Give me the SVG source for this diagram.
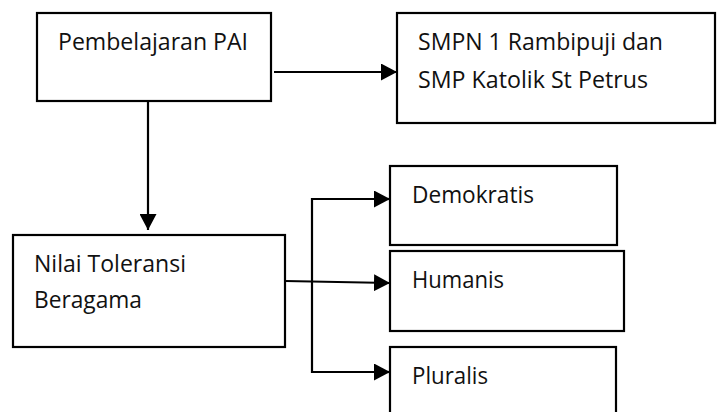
<svg xmlns="http://www.w3.org/2000/svg" width="717" height="412" viewBox="0 0 717 412">
<defs>
<style>
.box{fill:#fff;stroke:#000;stroke-width:2.2}
.lbl{font-family:"Open Sans","Noto Sans","Liberation Sans",sans-serif;font-size:23px;fill:#111}
.ln{fill:none;stroke:#000;stroke-width:2.2}
</style>
<marker id="ah" viewBox="0 0 16 17" refX="16" refY="8.5" markerWidth="16" markerHeight="17" markerUnits="userSpaceOnUse" orient="auto">
<path d="M0,0 L16,8.5 L0,17 Z" fill="#000"/>
</marker>
</defs>
<rect width="717" height="412" fill="#fff"/>
<g id="pai">
<rect class="box" x="37" y="13" width="234" height="88"/>
<text class="lbl" x="58" y="50" textLength="190" lengthAdjust="spacingAndGlyphs">Pembelajaran PAI</text>
</g>
<g id="smpn">
<rect class="box" x="397" y="13" width="318" height="110"/>
<text class="lbl" x="418" y="50" textLength="245" lengthAdjust="spacingAndGlyphs">SMPN 1 Rambipuji dan</text>
<text class="lbl" x="418" y="88" textLength="230" lengthAdjust="spacingAndGlyphs">SMP Katolik St Petrus</text>
</g>
<g id="nilai">
<rect class="box" x="13" y="235" width="272" height="112"/>
<text class="lbl" x="34" y="272" textLength="152" lengthAdjust="spacingAndGlyphs">Nilai Toleransi</text>
<text class="lbl" x="34" y="308" textLength="108" lengthAdjust="spacingAndGlyphs">Beragama</text>
</g>
<g id="demokratis">
<rect class="box" x="390" y="166" width="227" height="79"/>
<text class="lbl" x="412" y="203" textLength="122" lengthAdjust="spacingAndGlyphs">Demokratis</text>
</g>
<g id="humanis">
<rect class="box" x="390" y="251" width="234" height="80"/>
<text class="lbl" x="412" y="288" textLength="92" lengthAdjust="spacingAndGlyphs">Humanis</text>
</g>
<g id="pluralis">
<rect class="box" x="390" y="347" width="226" height="80"/>
<text class="lbl" x="412" y="384" textLength="76" lengthAdjust="spacingAndGlyphs">Pluralis</text>
</g>
<g id="connectors">
<line class="ln" x1="274" y1="72" x2="397" y2="72" marker-end="url(#ah)"/>
<line class="ln" x1="148" y1="101" x2="148" y2="230" marker-end="url(#ah)"/>
<line class="ln" x1="285" y1="281" x2="390" y2="283" marker-end="url(#ah)"/>
<polyline class="ln" points="390,199 312,199 312,372 390,372"/>
<line class="ln" x1="380" y1="199" x2="390" y2="199" marker-end="url(#ah)"/>
<line class="ln" x1="380" y1="372" x2="390" y2="372" marker-end="url(#ah)"/>
</g>
</svg>
